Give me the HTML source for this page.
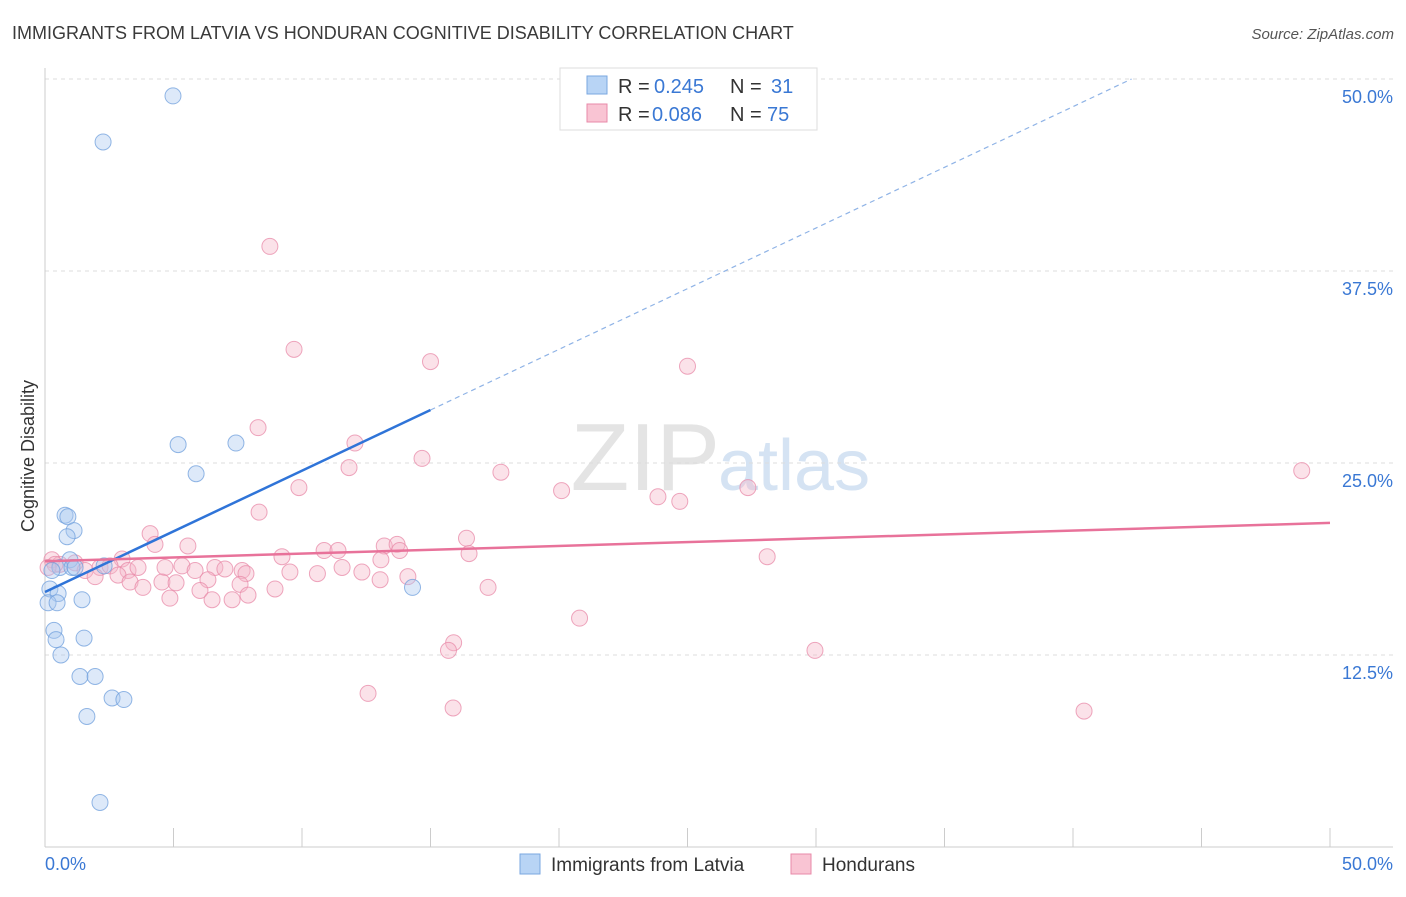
<!DOCTYPE html>
<html><head><meta charset="utf-8"><style>
body{margin:0;background:#fff;font-family:"Liberation Sans",sans-serif}
svg text{font-family:"Liberation Sans",sans-serif}
</style></head><body>
<svg width="1406" height="892" xmlns="http://www.w3.org/2000/svg">
<text x="12" y="39" font-size="18" fill="#3a3a3a">IMMIGRANTS FROM LATVIA VS HONDURAN COGNITIVE DISABILITY CORRELATION CHART</text>
<text x="1394" y="39" font-size="15" fill="#555" font-style="italic" text-anchor="end">Source: ZipAtlas.com</text>
<text x="720" y="490" font-size="96" fill="#e4e4e4" text-anchor="end" font-family="Liberation Serif">ZIP</text>
<text x="718" y="490" font-size="72" fill="#d5e3f3">atlas</text>
<g id="grid"></g><g id="axes"></g><g id="marks"></g>
<text transform="translate(34,456) rotate(-90)" font-size="18" fill="#333" text-anchor="middle">Cognitive Disability</text>
<g>
<rect x="560" y="68" width="257" height="62" fill="#fff" stroke="#ddd"/>
<rect x="587" y="76" width="20" height="18" fill="#b8d4f5" stroke="#7aa7e0"/>
<rect x="587" y="104" width="20" height="18" fill="#f9c4d3" stroke="#e88aa8"/>
<text x="618" y="93" font-size="20" fill="#333">R =</text>
<text x="654" y="93" font-size="20" fill="#3a78d4">0.245</text>
<text x="730" y="93" font-size="20" fill="#333">N =</text>
<text x="771" y="93" font-size="20" fill="#3a78d4">31</text>
<text x="618" y="121" font-size="20" fill="#333">R =</text>
<text x="652" y="121" font-size="20" fill="#3a78d4">0.086</text>
<text x="730" y="121" font-size="20" fill="#333">N =</text>
<text x="767" y="121" font-size="20" fill="#3a78d4">75</text>
</g>
<g>
<rect x="520" y="854" width="20" height="20" fill="#b8d4f5" stroke="#7aa7e0"/>
<text x="551" y="871" font-size="19" fill="#333">Immigrants from Latvia</text>
<rect x="791" y="854" width="20" height="20" fill="#f9c4d3" stroke="#e88aa8"/>
<text x="822" y="871" font-size="19" fill="#333">Hondurans</text>
</g>
</svg>
<script>
const blueX=[4.98,2.26,5.18,7.43,5.88,0.78,0.89,1.13,0.86,0.97,0.58,1.05,2.30,0.19,0.51,1.44,0.12,0.47,0.35,0.43,1.52,0.62,1.36,1.95,2.61,3.07,1.63,14.3,2.14,0.27,1.17];
const blueY=[48.9,45.9,26.2,26.3,24.3,21.6,21.5,20.6,20.2,18.7,18.2,18.2,18.3,16.8,16.5,16.1,15.9,15.9,14.1,13.5,13.6,12.5,11.1,11.1,9.7,9.6,8.5,16.9,2.9,18.0,18.2];
const pinkX=[8.75,9.69,15.0,25.0,8.29,12.06,14.67,11.83,17.74,9.88,20.1,23.85,24.7,27.35,48.9,8.33,4.09,4.28,5.56,16.4,13.2,13.7,16.5,13.8,10.86,11.4,9.22,28.1,3.0,0.27,0.58,1.17,1.56,2.14,2.53,3.23,3.62,4.67,5.33,5.84,6.61,7.0,7.67,7.82,9.53,10.6,11.56,12.33,13.07,14.12,1.95,2.84,3.31,3.81,4.55,5.1,6.34,6.03,7.59,7.9,8.95,4.86,6.5,7.28,13.04,17.24,20.8,15.9,15.7,29.96,12.57,15.88,40.43,0.39,0.12];
const pinkY=[39.1,32.4,31.6,31.3,27.3,26.3,25.3,24.7,24.4,23.4,23.2,22.8,22.5,23.4,24.5,21.8,20.4,19.7,19.6,20.1,19.6,19.7,19.1,19.3,19.3,19.3,18.9,18.9,18.75,18.7,18.4,18.5,18.0,18.2,18.3,18.0,18.2,18.2,18.3,18.0,18.2,18.1,18.0,17.8,17.9,17.8,18.2,17.9,18.7,17.6,17.6,17.7,17.25,16.9,17.25,17.2,17.4,16.7,17.1,16.4,16.8,16.2,16.1,16.1,17.4,16.9,14.9,13.3,12.8,12.8,10.0,9.05,8.85,18.4,18.2];
const yTicks=[12.5,25.0,37.5,50.0];
const xTickVals=[0,5,10,15,20,25,30,35,40,45,50];
const blueTrend=[16.6,0.79]; const pinkTrend=[18.6,0.05];
const NS="http://www.w3.org/2000/svg";
const sx=v=>45+v*25.7, sy=v=>847-v*15.36;
function mk(p,t,a){const e=document.createElementNS(NS,t);for(const k in a)e.setAttribute(k,a[k]);document.getElementById(p).appendChild(e);return e;}
yTicks.forEach(t=>{const l=mk('grid','line',{x1:45,x2:1393,y1:sy(t),y2:sy(t),stroke:'#ddd','stroke-dasharray':'4,4'});


const tx=mk('grid','text',{x:1393,y:sy(t)+24,'font-size':18,fill:'#3a78d4','text-anchor':'end'});tx.textContent=t.toFixed(1)+'%';

});
mk('axes','line',{x1:45,x2:45,y1:68,y2:847,stroke:'#ccc'});
mk('axes','line',{x1:45,x2:1393,y1:847,y2:847,stroke:'#ccc'});
xTickVals.forEach(t=>{const l=mk('axes','line',{x1:sx(t),x2:sx(t),y1:828,y2:847,stroke:'#ccc'});

});
const x0=mk('axes','text',{x:45,y:870,'font-size':18,fill:'#3a78d4'});x0.textContent='0.0%';


const x1=mk('axes','text',{x:1393,y:870,'font-size':18,fill:'#3a78d4','text-anchor':'end'});x1.textContent='50.0%';


function pts(X,Y,fill,stroke,name){X.forEach((x,i)=>{const c=mk('marks','circle',{cx:sx(x),cy:sy(Y[i]),r:8,fill:fill,'fill-opacity':0.4,stroke:stroke,'stroke-opacity':0.75,'stroke-width':1});

});}
pts(pinkX,pinkY,'#f5b6c8','#e88aa8','honduran-point');
pts(blueX,blueY,'#a9c8f0','#6f9fdc','latvia-point');
const xe=15,xd=(50-blueTrend[0])/blueTrend[1];
const bt=mk('marks','line',{x1:sx(0),y1:sy(blueTrend[0]),x2:sx(xe),y2:sy(blueTrend[0]+blueTrend[1]*xe),stroke:'#2f74d8','stroke-width':2.5});


const bd=mk('marks','line',{x1:sx(xe),y1:sy(blueTrend[0]+blueTrend[1]*xe),x2:sx(xd),y2:sy(50),stroke:'#8fb3e6','stroke-width':1.2,'stroke-dasharray':'5,4'});


const pt=mk('marks','line',{x1:sx(0),y1:sy(pinkTrend[0]),x2:sx(50),y2:sy(pinkTrend[0]+pinkTrend[1]*50),stroke:'#e8729a','stroke-width':2.5});


</script>
</body></html>
